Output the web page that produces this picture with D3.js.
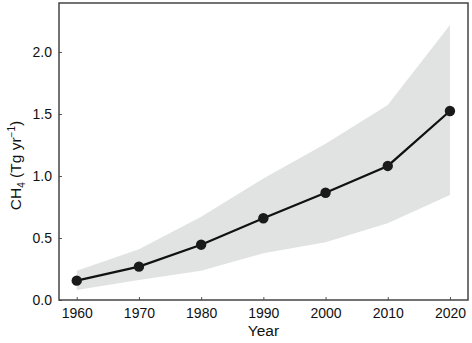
<!DOCTYPE html>
<html><head><meta charset="utf-8">
<script src="https://cdn.jsdelivr.net/npm/d3@7"></script>
<style>body{margin:0;background:#fff}svg{display:block;font-family:"Liberation Sans",Arial,sans-serif}</style>
</head><body>
<svg id="c" width="472" height="343"></svg>
<script>
const years = [1960, 1970, 1980, 1990, 2000, 2010, 2020];
const ch4 = [0.156, 0.269, 0.446, 0.659, 0.865, 1.081, 1.524];
const upper = [0.236, 0.409, 0.672, 0.98, 1.26, 1.573, 2.218];
const lower = [0.081, 0.161, 0.236, 0.376, 0.465, 0.618, 0.847];
const yTicks = [0.0, 0.5, 1.0, 1.5, 2.0];
const xTicks = [1960, 1970, 1980, 1990, 2000, 2010, 2020];

const svg = d3.select("#c");
const L = 59, R = 468, T = 3, B = 300;
const x = d3.scaleLinear().domain([1957.15, 2022.9]).range([L, R]);
const y = d3.scaleLinear().domain([0, 2.395]).range([B, T]);

const rows = years.map((yr, i) => ({yr, v: ch4[i], hi: upper[i], lo: lower[i]}));

svg.append("path").datum(rows)
  .attr("fill", "#e1e3e3")
  .attr("d", d3.area().x(d => x(d.yr)).y0(d => y(d.lo)).y1(d => y(d.hi)));

svg.append("path").datum(rows)
  .attr("fill", "none").attr("stroke", "#111").attr("stroke-width", 2.2)
  .attr("d", d3.line().x(d => x(d.yr)).y(d => y(d.v)));

svg.selectAll("circle.pt").data(rows).join("circle")
  .attr("class", "pt").attr("cx", d => x(d.yr)).attr("cy", d => y(d.v))
  .attr("r", 5.2).attr("fill", "#1a1a1a");

// axes
const xAxis = d3.axisBottom(x).tickValues(xTicks).tickFormat(d3.format("d")).tickSizeInner(-3).tickSizeOuter(0).tickPadding(8);
const gx = svg.append("g").attr("transform", `translate(0,${B})`).call(xAxis);
const yAxis = d3.axisLeft(y).tickValues(yTicks).tickFormat(d3.format(".1f")).tickSizeInner(-3).tickSizeOuter(0).tickPadding(7);
const gy = svg.append("g").attr("transform", `translate(${L},0)`).call(yAxis);
[gx, gy].forEach(g => {
  g.select(".domain").remove();
  g.selectAll(".tick line").attr("stroke", "#555").attr("stroke-width", 1);
  g.selectAll(".tick text").attr("fill", "#111").style("font-size", "14px").style("font-family", "'Liberation Sans',Arial,sans-serif");
});

// frame
svg.append("rect").attr("x", L).attr("y", T).attr("width", R - L).attr("height", B - T)
  .attr("fill", "none").attr("stroke", "#444").attr("stroke-width", 1.5);

// labels
svg.append("text").attr("x", (L + R) / 2).attr("y", 336).attr("text-anchor", "middle")
  .attr("fill", "#111").style("font-size", "15.5px").text("Year");

const yl = svg.append("text").attr("transform", `translate(21,${(T + B) / 2 + 14}) rotate(-90)`)
  .attr("text-anchor", "middle").attr("fill", "#111").style("font-size", "15.5px");
yl.append("tspan").text("CH");
yl.append("tspan").attr("dy", 4).style("font-size", "10px").text("4");
yl.append("tspan").attr("dy", -4).text(" (Tg yr");
yl.append("tspan").attr("dy", -6).style("font-size", "10px").text("−1");
yl.append("tspan").attr("dy", 6).text(")");
</script>
</body></html>
